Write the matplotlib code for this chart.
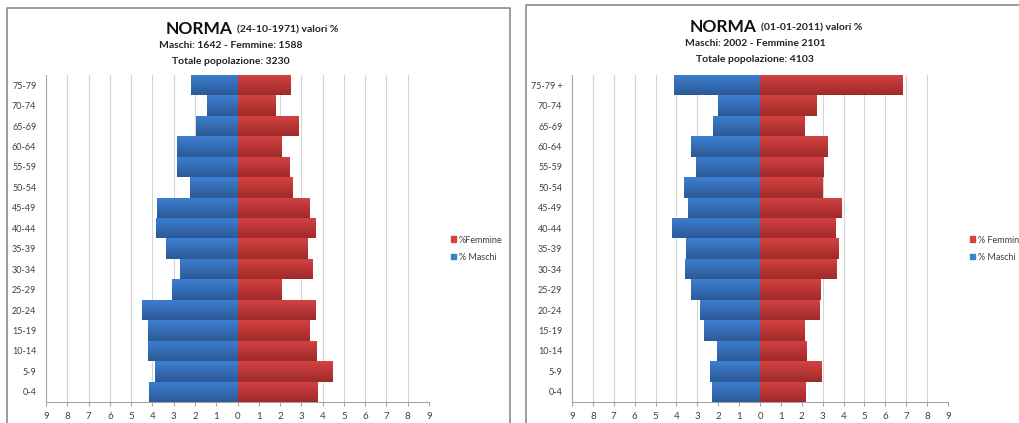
import numpy as np
import matplotlib
matplotlib.use('Agg')
from matplotlib import pyplot as plt
from matplotlib.lines import Line2D
from matplotlib.patches import Patch
from matplotlib.ticker import FuncFormatter, MultipleLocator

plt.rcParams['font.family'] = ['Lato', 'DejaVu Sans']

# classi di eta', dal basso verso l'alto
classi_1971 = ['0-4', '5-9', '10-14', '15-19', '20-24', '25-29', '30-34', '35-39',
               '40-44', '45-49', '50-54', '55-59', '60-64', '65-69', '70-74', '75-79']
classi_2011 = classi_1971[:-1] + ['75-79 +']

# valori percentuali
maschi_1971 = [4.16, 3.87, 4.20, 4.20, 4.49, 3.06, 2.68, 3.37,
               3.84, 3.77, 2.21, 2.84, 2.84, 1.97, 1.43, 2.18]
femmine_1971 = [3.73, 4.43, 3.68, 3.38, 3.63, 2.06, 3.51, 3.28,
                3.63, 3.38, 2.54, 2.40, 2.06, 2.85, 1.76, 2.45]
maschi_2011 = [2.32, 2.37, 2.08, 2.69, 2.89, 3.28, 3.61, 3.55,
               4.22, 3.45, 3.66, 3.04, 3.28, 2.24, 2.03, 4.14]
femmine_2011 = [2.19, 2.94, 2.25, 2.11, 2.85, 2.89, 3.68, 3.74,
                3.61, 3.92, 2.99, 3.02, 3.23, 2.13, 2.72, 6.83]

W, H = 1019, 423
BLU = ('#3d7fd2', '#2c5a96')
ROSSO = ('#d44242', '#a02a2a')


def gradiente(c_alto, c_basso, n=32):
    a = np.array(matplotlib.colors.to_rgb(c_alto))
    b = np.array(matplotlib.colors.to_rgb(c_basso))
    t = np.linspace(0, 1, n)[:, None]
    return (a * (1 - t) + b * t)[:, None, :]


def barre(ax, y, valori, colori):
    bars = ax.barh(y, valori, height=1.0, color=colori[0], linewidth=0, zorder=2)
    img = gradiente(*colori)
    for b in bars:
        x0, y0 = b.get_x(), b.get_y()
        x1, y1 = x0 + b.get_width(), y0 + b.get_height()
        im = ax.imshow(img, extent=[min(x0, x1), max(x0, x1), y0, y1],
                       origin='upper', aspect='auto', zorder=3)
        im.set_clip_path(b)


def piramide(ax, classi, maschi, femmine):
    y = np.arange(len(classi))
    barre(ax, y, -np.array(maschi), BLU)
    barre(ax, y, np.array(femmine), ROSSO)
    ax.set_xlim(-9, 9)
    ax.set_ylim(-0.5, len(classi) - 0.5)
    ax.set_yticks(y)
    ax.set_yticklabels(classi)
    ax.xaxis.set_major_locator(MultipleLocator(1))
    ax.xaxis.set_major_formatter(FuncFormatter(lambda v, p: f'{abs(v):.0f}'))
    ax.grid(axis='x', color='#d4d4d4', linewidth=0.8, zorder=0)
    ax.set_axisbelow(True)
    for s in ('top', 'right'):
        ax.spines[s].set_visible(False)
    for s in ('left', 'bottom'):
        ax.spines[s].set_color('#a6a6a6')
        ax.spines[s].set_linewidth(0.8)
    ax.tick_params(axis='x', length=3, color='#a6a6a6', labelsize=7,
                   labelcolor='#404040', pad=4)
    ax.tick_params(axis='y', length=0, labelsize=6.5, labelcolor='#404040', pad=7)


def titolo(fig, xc, y0, data, riga2, riga3):
    fig.text(xc - 0.002, 1 - y0 / H, 'NORMA', ha='right', va='center',
             fontsize=12.5, fontweight='bold', color='#111111')
    fig.text(xc + 0.002, 1 - (y0 + 1) / H, f'({data}) valori %', ha='left', va='center',
             fontsize=7.5, fontweight='bold', color='#222222')
    fig.text((xc * W - 4) / W, 1 - (y0 + 17) / H, riga2, ha='center', va='center',
             fontsize=7.5, fontweight='bold', color='#222222')
    fig.text((xc * W - 4) / W, 1 - (y0 + 32) / H, riga3, ha='center', va='center',
             fontsize=7.5, fontweight='bold', color='#222222')


def legenda(fig, ax, x, y, testo_f, testo_m):
    maniglie = [Patch(color=ROSSO[0], label=testo_f), Patch(color=BLU[0], label=testo_m)]
    ax.legend(handles=maniglie, loc='upper left', bbox_to_anchor=(x / W, 1 - y / H),
              bbox_transform=fig.transFigure, frameon=False, fontsize=6.5,
              handlelength=0.6, handleheight=0.6, handletextpad=0.3,
              labelspacing=0.9, labelcolor='#404040', borderpad=0)


fig = plt.figure(figsize=(W / 100, H / 100), dpi=100)

ax1 = fig.add_axes([46 / W, 21 / H, 383 / W, 327 / H])
piramide(ax1, classi_1971, maschi_1971, femmine_1971)
ax2 = fig.add_axes([572 / W, 21 / H, 376 / W, 327 / H])
piramide(ax2, classi_2011, maschi_2011, femmine_2011)

titolo(fig, 235 / W, 29, '24-10-1971', 'Maschi: 1642 - Femmine: 1588',
       'Totale popolazione: 3230')
titolo(fig, 759 / W, 27, '01-01-2011', 'Maschi: 2002 - Femmine 2101',
       'Totale popolazione: 4103')

legenda(fig, ax1, 446, 231, '%Femmine', '% Maschi')
legenda(fig, ax2, 965, 231, '% Femmine', '% Maschi')

# cornici dei due grafici
bordo = dict(color='#8c8c8c', linewidth=1.2)
fig.add_artist(Line2D([7 / W, 7 / W, 510 / W, 510 / W], [0, 1 - 8 / H, 1 - 8 / H, 0], **bordo))
fig.add_artist(Line2D([526 / W, 526 / W, 1.0], [0, 1 - 5 / H, 1 - 5 / H], **bordo))

fig.savefig('out.png', dpi=100)
